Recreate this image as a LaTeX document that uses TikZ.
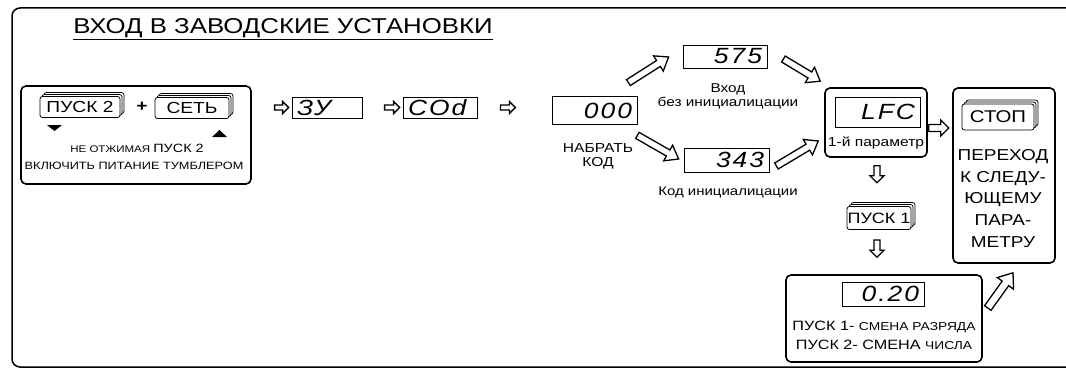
\documentclass[tikz,border=0pt]{standalone}
\usepackage{fontspec}
\setmainfont{Liberation Sans}[FakeStretch=1.2]
\usetikzlibrary{calc,shadows}

\tikzset{
  grp/.style={draw, line width=1.6pt, rounded corners=5pt, inner sep=0pt},
  disp/.style={draw, line width=0.8pt, inner sep=0pt, inner xsep=5pt,
    font=\fontsize{22}{22}\selectfont\itshape\addfontfeatures{LetterSpace=9}},
  key/.style={draw, fill=white, line width=0.8pt, rounded corners=2.5pt, inner sep=0pt,
    double copy shadow={shadow xshift=2pt, shadow yshift=2pt, draw=black, fill=white, line width=0.8pt},
    font=\fontsize{16}{16}\selectfont},
  arrowline/.style={draw, fill=white, line width=1.3pt, line join=miter},
  lbl/.style={font=\fontsize{13}{14}\selectfont, align=center, inner sep=0pt},
}

% 空心箭头: 起点, 终点, 箭杆半宽, 箭头半宽, 箭头长
\newcommand\hollowarrow[5]{%
  \draw[arrowline] let \p1=(#1), \p2=(#2),
      \n1={atan2(\y2-\y1,\x2-\x1)}, \n2={veclen(\x2-\x1,\y2-\y1)} in
    ($(\p1)+(\n1+90:#3)$) -- ($(\p1)+(\n1:\n2-#5)+(\n1+90:#3)$)
    -- ($(\p1)+(\n1:\n2-#5)+(\n1+90:#4)$) -- (\p2)
    -- ($(\p1)+(\n1:\n2-#5)+(\n1-90:#4)$) -- ($(\p1)+(\n1:\n2-#5)+(\n1-90:#3)$)
    -- ($(\p1)+(\n1-90:#3)$) -- cycle;}

\begin{document}
\begin{tikzpicture}[x=1pt, y=1pt]
    \useasboundingbox (0,0) rectangle (1066,-369);
    % 外框及标题
    \draw[line width=1.5pt, rounded corners=8pt] (12,-367) rectangle (1085,-8);
    \node[font=\fontsize{21.5}{21.5}\selectfont] (title) at (283,-29) {\underline{ВХОД В ЗАВОДСКИЕ УСТАНОВКИ}};

    % 开机: 按键组合
    \node[grp, minimum width=230pt, minimum height=98pt] (start) at (136,-135) {};
    \node[key, minimum width=80pt, minimum height=21pt] (keyA) at (80,-107) {ПУСК 2};
    \node[font=\fontsize{16}{16}\selectfont\bfseries] (plus) at (142,-107) {+};
    \node[key, minimum width=74pt, minimum height=21pt] (keyB) at (192,-108) {СЕТЬ};
    \fill (47,-125) -- (62,-125) -- (54.5,-131) -- cycle;
    \fill (212,-137) -- (227,-137) -- (219.5,-130) -- cycle;
    \node[font=\fontsize{9.6}{10}\selectfont] (hold) at (137,-148)
        {НЕ ОТЖИМАЯ {\fontsize{12}{12}\selectfont ПУСК 2}};
    \node[font=\fontsize{10.6}{11}\selectfont] (power) at (134,-166) {ВКЛЮЧИТЬ ПИТАНИЕ ТУМБЛЕРОМ};

    % 显示器
    \node[disp, text width=60pt, align=left, minimum height=21pt] (d3Y) at (327,-107.5) {ЗУ};
    \node[disp, text width=64pt, align=left, minimum height=21pt] (dCOd) at (440,-107.5) {COd};
    \node[disp, text width=75pt, align=right, minimum height=28pt] (d000) at (594.5,-110.5) {000};
    \node[disp, text width=74pt, align=right, minimum height=23pt] (d575) at (725,-56.5) {575};
    \node[disp, text width=75pt, align=right, minimum height=24pt] (d343) at (726.5,-160) {343};
    \node[lbl] (dial) at (598,-156) {НАБРАТЬ\\КОД};
    \node[lbl, font=\fontsize{12.8}{14}\selectfont] (skip) at (728,-96) {Вход\\без инициалицации};
    \node[lbl, font=\fontsize{12.5}{14}\selectfont] (init) at (728,-192) {Код инициалицации};

    % 第一个参数
    \node[grp, minimum width=102pt, minimum height=69pt] (lfcbox) at (876,-122.5) {};
    \node[disp, text width=75pt, align=right, minimum height=30pt] (dLFC) at (877.5,-112) {LFC};
    \node[lbl] (first) at (876,-143) {1-й параметр};

    % 下一个参数
    \node[grp, minimum width=102pt, minimum height=175pt] (stopbox) at (1004,-175.5) {};
    \node[key, minimum width=72pt, minimum height=26pt, font=\fontsize{17}{17}\selectfont] (keyS) at (998,-117) {СТОП};
    \node[font=\fontsize{15.8}{21.7}\selectfont, align=center] (next) at (1003,-198.5)
        {ПЕРЕХОД\\К СЛЕДУ-\\ЮЩЕМУ\\ПАРА-\\МЕТРУ};

    % 修改数值
    \node[key, minimum width=64pt, minimum height=23pt, font=\fontsize{15}{15}\selectfont] (keyC) at (879,-218) {ПУСК 1};
    \node[grp, minimum width=196pt, minimum height=87pt] (setbox) at (884,-318.5) {};
    \node[disp, text width=72pt, align=right, minimum height=24pt] (d020) at (883,-294) {0.20};
    \node[font=\fontsize{13.5}{14}\selectfont] (digit) at (884,-327)
        {ПУСК 1- {\fontsize{11.5}{12}\selectfont СМЕНА РАЗРЯДА}};
    \node[font=\fontsize{13.5}{14}\selectfont] (number) at (884,-345)
        {ПУСК 2- СМЕНА {\fontsize{11.5}{12}\selectfont ЧИСЛА}};

    % 箭头
    \hollowarrow{$(d3Y.west)+(-17,0)$}{$(d3Y.west)+(-3,0)$}{2.5}{6}{6}
    \hollowarrow{$(dCOd.west)+(-18,0)$}{$(dCOd.west)+(-3,0)$}{2.5}{6}{6}
    \hollowarrow{$(dCOd.east)+(23,0)$}{$(dCOd.east)+(38,0)$}{2.5}{6}{6}
    \hollowarrow{$(d000.north east)+(-9,13.5)$}{$(d575.west)+(-14,-0.5)$}{3.5}{9}{12}
    \hollowarrow{$(d000.south east)+(0,-10.5)$}{$(d343.west)+(-5,1)$}{3.5}{9}{12}
    \hollowarrow{$(d575.east)+(16,-2.5)$}{$(lfcbox.north west)+(-4,6)$}{3.5}{9}{12}
    \hollowarrow{$(d343.east)+(7,-6)$}{$(lfcbox.west)+(-6,-18.5)$}{3.5}{9}{12}
    \hollowarrow{$(lfcbox.east)+(1,-5.5)$}{$(lfcbox.east)+(21,-5.5)$}{3.5}{8}{8}
    \hollowarrow{$(lfcbox.south)+(1,-8)$}{$(lfcbox.south)+(1,-25)$}{3}{7}{7}
    \hollowarrow{$(keyC.south)+(-2,-10)$}{$(setbox.north)+(-7,17)$}{3}{7}{7}
    \hollowarrow{$(setbox.east)+(5,10.5)$}{$(stopbox.south)+(9,-9)$}{4}{10}{13}
\end{tikzpicture}
\end{document}
